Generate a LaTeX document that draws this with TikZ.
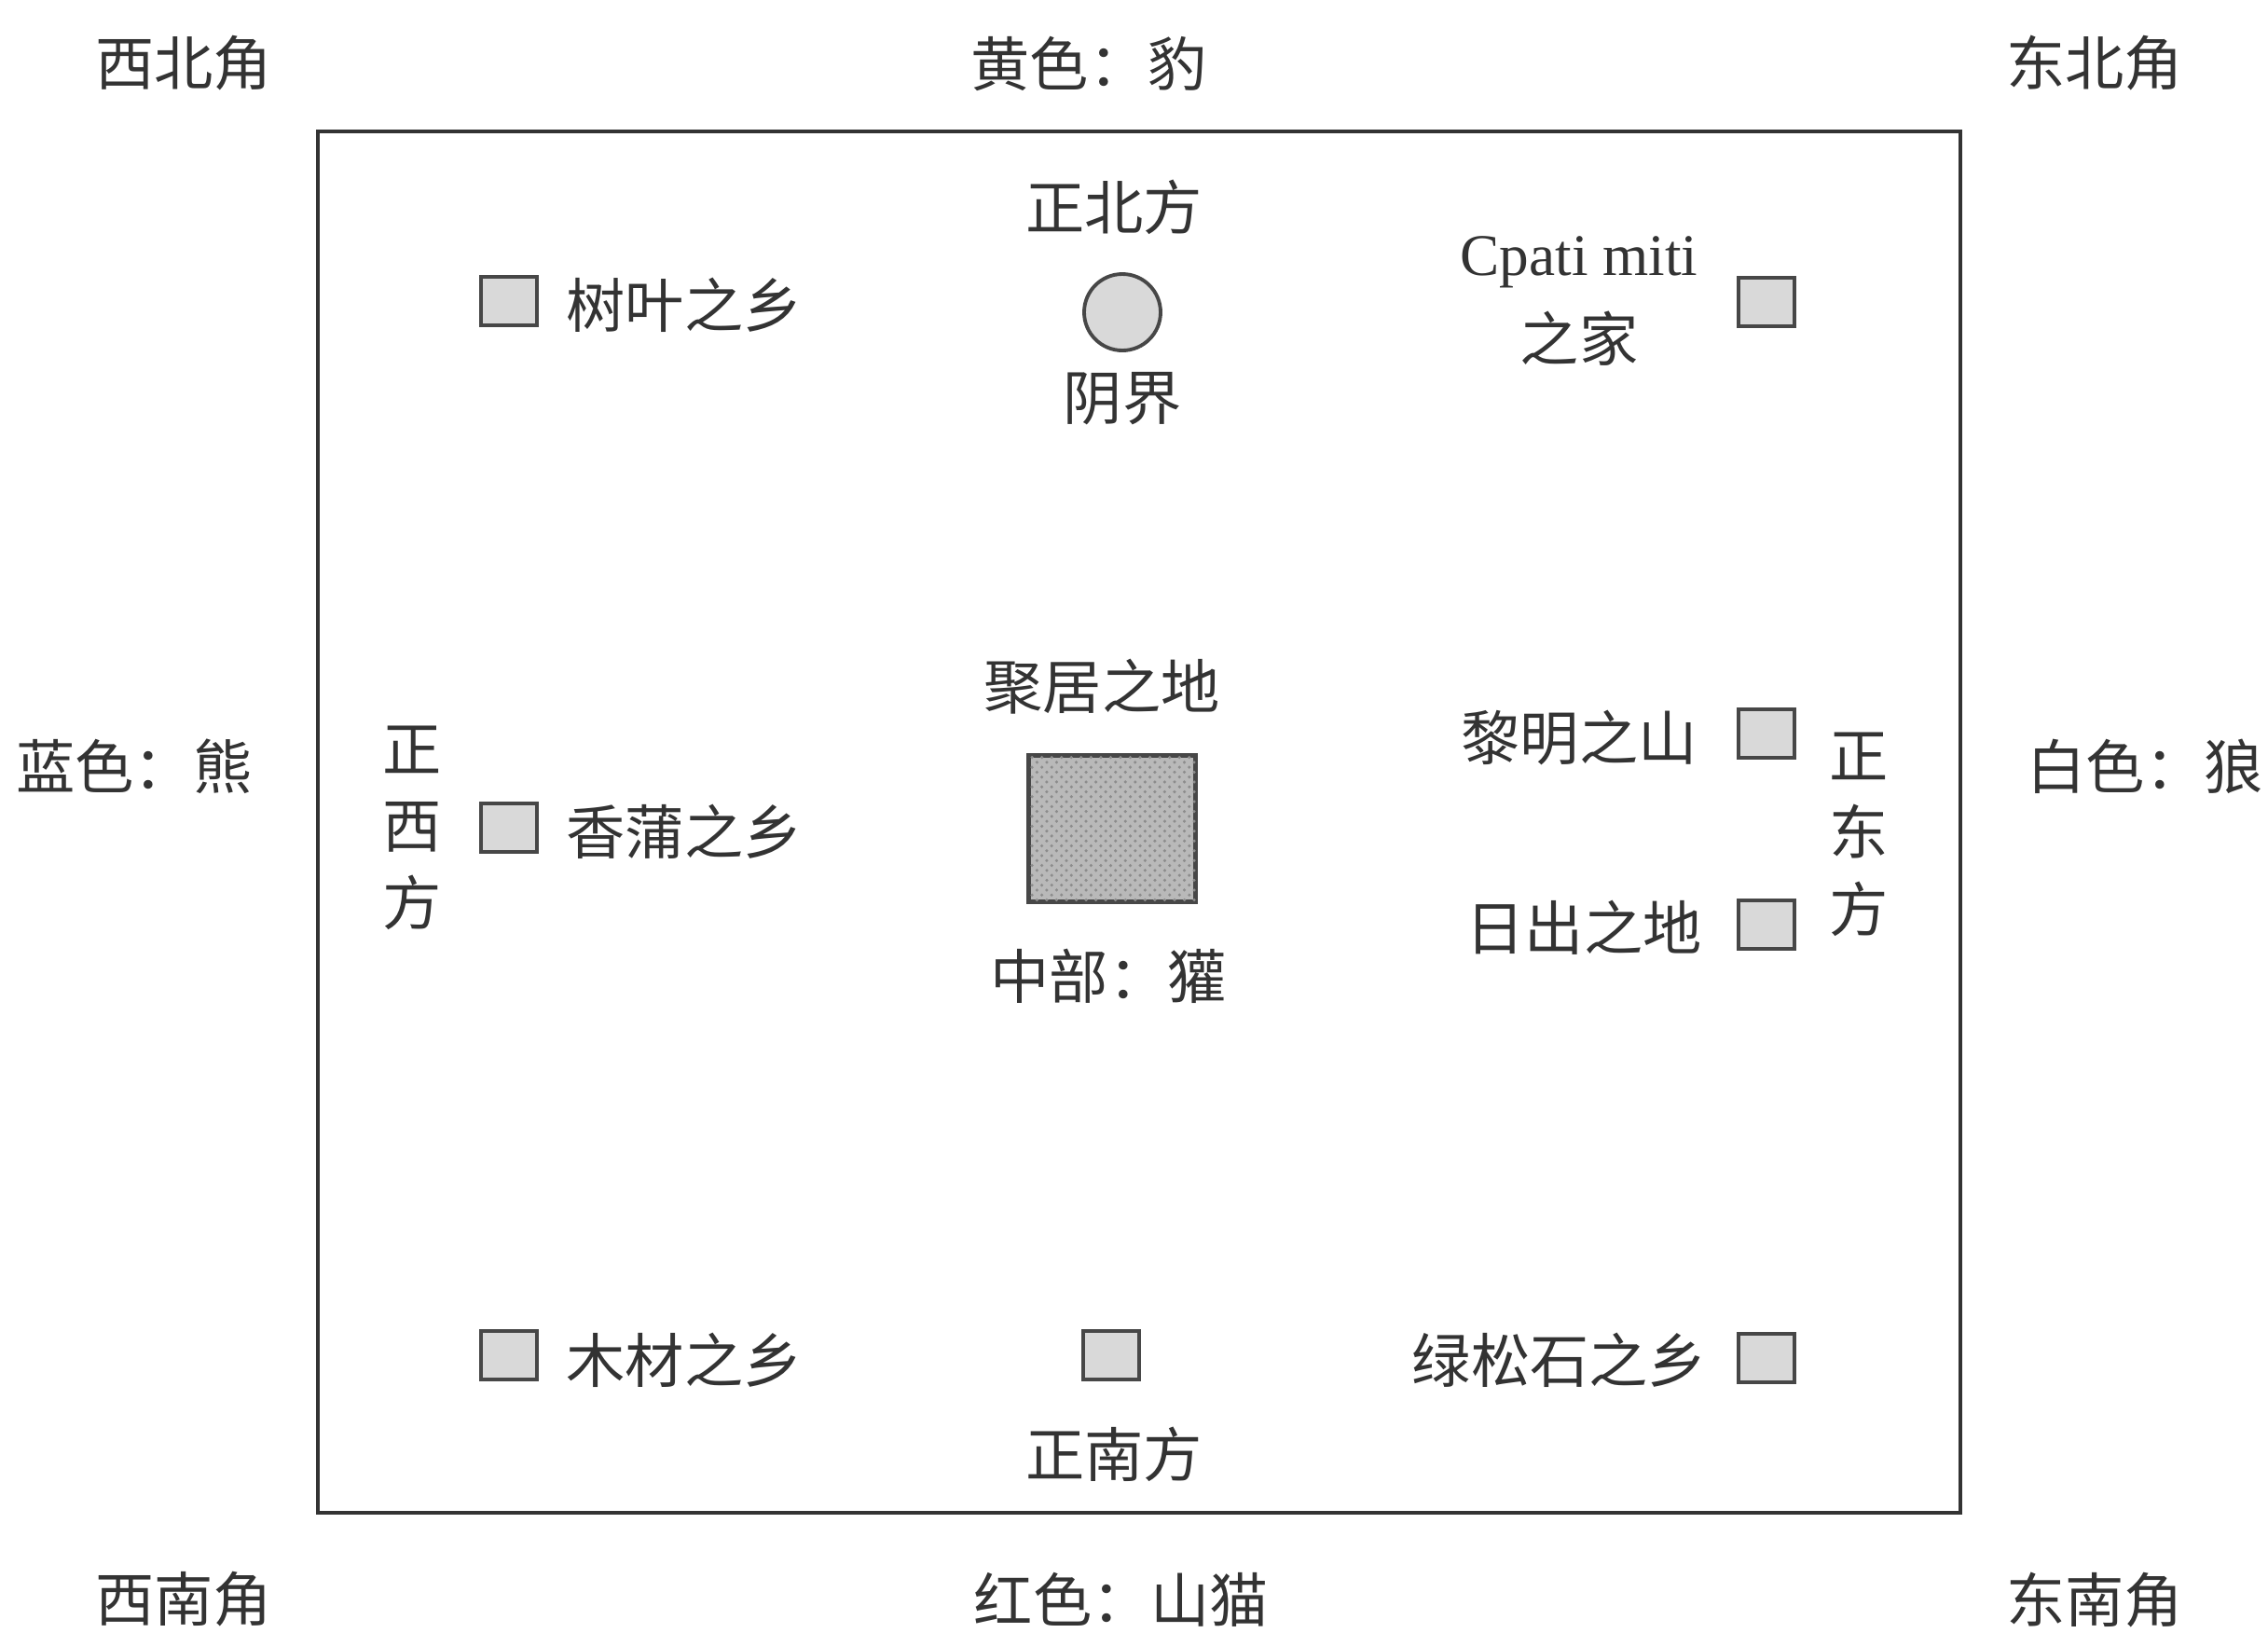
\documentclass[tikz,border=0pt]{standalone}
\usepackage{fontspec}
\setmainfont{Liberation Serif}
\newfontfamily\cjk{Noto Sans CJK SC}
\usetikzlibrary{patterns}
\definecolor{ink}{HTML}{333333}
\tikzset{
  lab/.style={font=\cjk\fontsize{18}{22}\selectfont, text=ink, inner sep=0pt},
  vlab/.style={lab, align=center, font=\cjk\fontsize{18}{23.5}\selectfont},
  site/.style={draw=ink!90, line width=1.1pt, fill=gray!30, minimum width=0.6cm, minimum height=0.52cm, inner sep=0pt},
  frame/.style={draw=ink, line width=1pt}
}
\begin{document}
\begin{tikzpicture}[x=1cm,y=1cm]
\useasboundingbox (0,0) rectangle (24.33,-17.51);
\fill[white] (0,0) rectangle (24.33,-17.51);
% outer frame
\draw[frame] (3.41,-1.41) rectangle (21.03,-16.23);
% corner / side labels
\node[lab] (nw) at (1.97,-0.68) {西北角};
\node[lab] (n) at (11.68,-0.68) {黄色：豹};
\node[lab] (ne) at (22.47,-0.68) {东北角};
\node[lab] (w) at (1.44,-8.22) {蓝色：熊};
\node[lab] (e) at (23.01,-8.22) {白色：狼};
\node[lab] (sw) at (1.97,-17.16) {西南角};
\node[lab] (s) at (12.03,-17.16) {红色：山猫};
\node[lab] (se) at (22.47,-17.16) {东南角};
% north
\node[lab] (dn) at (11.95,-2.22) {正北方};
\node[circle, draw=ink!90, line width=1.1pt, fill=gray!30, minimum size=0.82cm, inner sep=0pt] (under) at (12.04,-3.35) {};
\node[lab] (underl) at (12.04,-4.28) {阴界};
% NW
\node[site] (leaf) at (5.46,-3.23) {};
\node[lab] (leafl) at (7.34,-3.27) {树叶之乡};
% NE
\node[lab, align=center, font=\fontsize{18}{26}\selectfont] (cpatil) at (16.94,-3.23) {Cpati miti\\{\cjk 之家}};
\node[site] (cpati) at (18.95,-3.24) {};
% center
\node[lab] (gatherl) at (11.82,-7.37) {聚居之地};
\node[draw=ink!90, line width=1.3pt, fill=gray!55, postaction={pattern=crosshatch dots, pattern color=gray!90}, minimum width=1.79cm, minimum height=1.57cm, inner sep=0pt] (gather) at (11.93,-8.89) {};
\node[lab] (mid) at (11.89,-10.47) {中部：獾};
% west
\node[vlab] (dw) at (4.42,-8.88) {正\\西\\方};
\node[site] (cattail) at (5.46,-8.88) {};
\node[lab] (cattaill) at (7.34,-8.92) {香蒲之乡};
% east
\node[lab] (dawnl) at (16.94,-7.91) {黎明之山};
\node[site] (dawn) at (18.95,-7.87) {};
\node[vlab] (de) at (19.94,-8.95) {正\\东\\方};
\node[lab] (sunl) at (16.99,-9.95) {日出之地};
\node[site] (sun) at (18.95,-9.92) {};
% south
\node[site] (wood) at (5.46,-14.54) {};
\node[lab] (woodl) at (7.34,-14.59) {木材之乡};
\node[site] (south) at (11.92,-14.54) {};
\node[lab] (turql) at (16.73,-14.59) {绿松石之乡};
\node[site] (turq) at (18.95,-14.57) {};
\node[lab] (ds) at (11.95,-15.60) {正南方};
\end{tikzpicture}
\end{document}
